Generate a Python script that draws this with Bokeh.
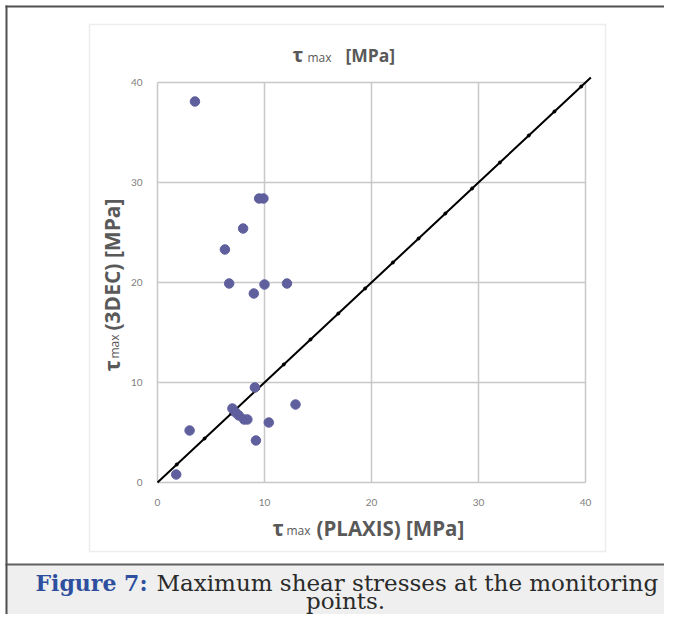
import math
from bokeh.plotting import figure
from bokeh.models import Label, BoxAnnotation, FixedTicker, Range1d
from bokeh.embed import file_html
from bokeh.resources import INLINE

# ---- data ----
plaxis = [3.5, 9.5, 9.9, 8.0, 6.3, 6.7, 10.0, 12.1, 9.0, 1.75, 3.0, 9.1,
          7.0, 7.3, 7.6, 8.1, 8.4, 10.4, 9.2, 12.9]
dec3 = [38.1, 28.4, 28.4, 25.4, 23.3, 19.9, 19.8, 19.9, 18.9, 0.8, 5.2, 9.5,
        7.4, 7.0, 6.7, 6.3, 6.3, 6.0, 4.2, 7.8]
diag = [0, 1.8, 4.4, 6.9, 9.4, 11.8, 14.3, 16.9, 19.4, 22.0, 24.4, 26.9,
        29.4, 32.0, 34.7, 37.1, 39.6, 40.5]
ticks = [0, 10, 20, 30, 40]

W, H = 664, 614
X0, XS = 157, 10.7     # pixel of x=0, pixels per unit
Y0, YS = 482, 10.0     # pixel of y=0, pixels per unit

p = figure(width=W, height=H,
           x_range=Range1d(-X0 / XS, (W - X0) / XS),
           y_range=Range1d(-(H - Y0) / YS, Y0 / YS),
           output_backend="svg", toolbar_location=None,
           min_border=0, min_border_left=0, min_border_right=0,
           min_border_top=0, min_border_bottom=0)
p.title.visible = False
p.outline_line_color = None
p.background_fill_color = "white"
p.border_fill_color = "white"
p.xgrid.visible = False
p.ygrid.visible = False

for ax in (p.xaxis, p.yaxis):
    ax.ticker = FixedTicker(ticks=ticks)
    ax.fixed_location = 0
    ax.axis_line_color = None
    ax.major_tick_line_color = None
    ax.minor_tick_line_color = None
    ax.major_label_text_font = "Lato"
    ax.major_label_text_font_size = "10px"
    ax.major_label_text_color = "#808080"
p.xaxis.major_label_standoff = 10
p.yaxis.major_label_standoff = 9


def box(x1, y1, x2, y2, fill=None, line=None, lw=1.5):
    b = BoxAnnotation(left=x1, right=x2, top=H - y1, bottom=H - y2,
                      left_units="screen", right_units="screen",
                      top_units="screen", bottom_units="screen",
                      fill_color=fill if fill else "white",
                      fill_alpha=1.0 if fill else 0.0,
                      line_color=line, line_width=lw, level="underlay")
    p.add_layout(b)


DY = 8  # rendered baseline sits this much below the requested one


def lab(px, py, text, size, bold=False, color="#595959", font="Open Sans",
        angle=0.0, align="left"):
    if angle == 0.0:
        py = py - DY
    p.add_layout(Label(x=px, y=H - py, x_units="screen", y_units="screen",
                       text=text, text_font=font, text_font_size=f"{size}px",
                       text_font_style="bold" if bold else "normal",
                       text_color=color, text_align=align,
                       text_baseline="alphabetic", angle=angle))


# outer border, caption band and inner chart box
box(5, 564, W, H, fill="#efefef")
box(5, 563, W, 565, fill="#606060")
box(5, 5, 7, H, fill="#505050")
box(5, 5, W, 7, fill="#505050")
box(89, 24, 605, 551, fill=None, line="#c4c4c4", lw=1.5)

# grid lines built from the tick values
lo, hi = ticks[0], ticks[-1]
p.segment(x0=ticks, y0=[lo] * len(ticks), x1=ticks, y1=[hi] * len(ticks),
          line_color="#c8c8c8", line_width=1.5)
p.segment(x0=[lo] * len(ticks), y0=ticks, x1=[hi] * len(ticks), y1=ticks,
          line_color="#c8c8c8", line_width=1.5)

# diagonal 1:1 line
p.line(diag, diag, line_color="black", line_width=2)
p.scatter(diag[1:-1], diag[1:-1], size=3, marker="circle",
          fill_color="black", line_color="black")

# data points
p.scatter(plaxis, dec3, size=9.5, marker="circle",
          fill_color="#5f5f9e", line_color="#5f5f9e", line_width=1)

# title
lab(292, 62, "τ", 20, bold=True)
lab(307, 65, "max", 12)
lab(345, 62, "[MPa]", 17.5, bold=True)

# x axis label
lab(272, 535, "τ", 21, bold=True)
lab(286, 538, "max", 12)
lab(316, 535, "(PLAXIS) [MPa]", 20.5, bold=True)

# y axis label (rotated)
ang = math.pi / 2
lab(111, 371, "τ", 21, bold=True, angle=ang)
lab(114, 358, "max", 12, angle=ang)
lab(111, 330, "(3DEC) [MPa]", 21, bold=True, angle=ang)

# caption
lab(35, 590, "Figure 7:", 22, bold=True, color="#2e4f9e", font="DejaVu Serif")
lab(156, 590, "Maximum shear stresses at the monitoring", 23, color="#2a2a2a",
    font="DejaVu Serif")
lab(345, 608, "points.", 23, color="#2a2a2a", font="DejaVu Serif", align="center")

open("out.html", "w").write(file_html(p, INLINE))
